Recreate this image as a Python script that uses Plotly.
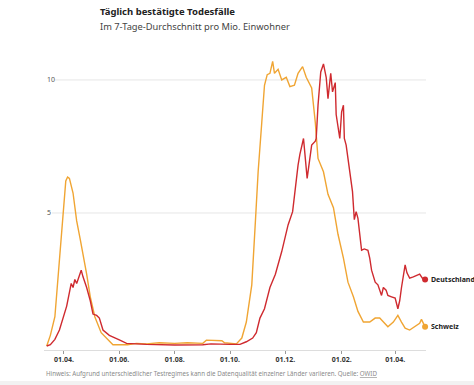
import plotly.graph_objects as go

# ---- data ----
ch_dates = ["2020-03-13","2020-03-17","2020-03-22","2020-03-27","2020-03-31","2020-04-03","2020-04-05","2020-04-07",
            "2020-04-11","2020-04-15","2020-04-19","2020-04-22","2020-04-26","2020-04-30","2020-05-05","2020-05-12",
            "2020-05-21","2020-05-25","2020-06-10","2020-06-20","2020-07-01","2020-07-15","2020-08-01","2020-08-15",
            "2020-09-01","2020-09-05","2020-09-22","2020-09-25","2020-10-08","2020-10-14","2020-10-19","2020-10-25",
            "2020-10-29","2020-11-01","2020-11-05","2020-11-08","2020-11-11","2020-11-14","2020-11-17","2020-11-19",
            "2020-11-23","2020-11-27","2020-12-02","2020-12-06","2020-12-11","2020-12-15","2020-12-20","2020-12-24",
            "2020-12-30","2021-01-03","2021-01-06","2021-01-12","2021-01-17","2021-01-23","2021-01-28","2021-02-03",
            "2021-02-08","2021-02-14","2021-02-19","2021-02-25","2021-03-04","2021-03-10","2021-03-15","2021-03-19",
            "2021-03-24","2021-03-30","2021-04-04","2021-04-08","2021-04-12","2021-04-17","2021-04-23","2021-04-28",
            "2021-04-30","2021-05-04"]
ch_values = [0.0,0.4,1.1,3.2,5.1,6.2,6.35,6.3,
             5.75,4.7,4.0,3.5,2.7,1.85,1.1,0.5,
             0.16,0.05,0.05,0.1,0.08,0.12,0.1,0.12,
             0.1,0.22,0.2,0.12,0.08,0.3,0.9,2.3,
             4.7,6.55,8.4,9.8,10.2,10.25,10.7,10.25,
             10.4,10.0,10.1,9.75,9.8,10.25,10.5,10.1,
             9.7,8.4,7.05,6.55,5.7,5.2,4.2,3.3,
             2.4,1.85,1.3,0.9,0.9,1.05,1.05,0.9,
             0.72,0.9,1.15,0.9,0.67,0.6,0.72,0.85,
             1.0,0.72]

de_dates = ["2020-03-13","2020-03-17","2020-03-22","2020-03-27","2020-04-04","2020-04-09","2020-04-11","2020-04-13",
            "2020-04-15","2020-04-19","2020-04-20","2020-04-22","2020-04-26","2020-04-30","2020-05-03","2020-05-07",
            "2020-05-10","2020-05-14","2020-05-21","2020-06-01","2020-06-09","2020-07-01","2020-08-01","2020-09-01",
            "2020-09-10","2020-10-01","2020-10-12","2020-10-19","2020-10-26","2020-10-30","2020-11-03","2020-11-08",
            "2020-11-14","2020-11-20","2020-11-27","2020-12-04","2020-12-09","2020-12-15","2020-12-17","2020-12-21",
            "2020-12-25","2020-12-30","2021-01-03","2021-01-04","2021-01-06","2021-01-09","2021-01-12","2021-01-15",
            "2021-01-17","2021-01-20","2021-01-22","2021-01-25","2021-01-26","2021-01-30","2021-02-01","2021-02-03",
            "2021-02-04","2021-02-06","2021-02-10","2021-02-13","2021-02-15","2021-02-17","2021-02-19","2021-02-23",
            "2021-02-26","2021-03-02","2021-03-04","2021-03-06","2021-03-10","2021-03-13","2021-03-17","2021-03-19",
            "2021-03-22","2021-03-24","2021-03-28","2021-04-01","2021-04-04","2021-04-06","2021-04-08","2021-04-12",
            "2021-04-14","2021-04-17","2021-04-21","2021-04-25","2021-04-28","2021-05-01","2021-05-04"]
de_values = [0.0,0.05,0.25,0.6,1.5,2.35,2.2,2.5,
             2.35,2.7,2.85,2.6,2.2,1.7,1.2,1.15,
             1.05,0.6,0.4,0.23,0.1,0.06,0.04,0.05,
             0.08,0.06,0.06,0.16,0.3,0.5,1.05,1.4,
             2.2,2.7,3.55,4.55,5.05,6.8,7.2,7.8,
             6.3,7.55,7.7,7.8,9.05,10.3,10.6,10.1,
             9.3,10.25,9.55,9.9,8.7,7.8,8.8,9.05,
             7.8,7.55,6.55,5.8,4.75,5.05,4.8,3.6,
             3.65,3.6,3.3,2.85,2.4,2.3,1.9,2.2,
             2.1,1.9,1.85,1.8,1.4,1.7,2.2,3.05,
             2.75,2.55,2.6,2.65,2.7,2.55,2.5]

tick_vals = ["2020-04-01","2020-06-01","2020-08-01","2020-10-01","2020-12-01","2021-02-01","2021-04-01"]
tick_text = ["01.04.","01.06.","01.08.","01.10.","01.12.","01.02.","01.04."]
y_ticks = [0, 5, 10]
grid_levels = [5, 10]

RED = "#cf2a2f"
ORANGE = "#f0a533"
FONT = "Noto Sans"

fig = go.Figure()
fig.add_trace(go.Scatter(x=ch_dates, y=ch_values, mode="lines", name="Schweiz",
                         line=dict(color=ORANGE, width=1.4), hoverinfo="skip"))
fig.add_trace(go.Scatter(x=de_dates, y=de_values, mode="lines", name="Deutschland",
                         line=dict(color=RED, width=1.4), hoverinfo="skip"))
fig.add_trace(go.Scatter(x=[ch_dates[-1]], y=[ch_values[-1]], mode="markers",
                         marker=dict(color=ORANGE, size=6), cliponaxis=False, hoverinfo="skip"))
fig.add_trace(go.Scatter(x=[de_dates[-1]], y=[de_values[-1]], mode="markers",
                         marker=dict(color=RED, size=6), cliponaxis=False, hoverinfo="skip"))

# gridlines (drawn as shapes so they start right of the inside labels)
for lvl, x0 in zip(grid_levels, [0.021, 0.029]):
    fig.add_shape(type="line", xref="paper", yref="y", x0=x0, x1=1, y0=lvl, y1=lvl,
                  line=dict(color="#e6e6e6", width=1), layer="below")

# end labels
fig.add_annotation(x=de_dates[-1], y=de_values[-1], text="<b>Deutschland</b>", showarrow=False,
                   xanchor="left", xshift=4, font=dict(family=FONT, size=7, color="#222"))
fig.add_annotation(x=ch_dates[-1], y=ch_values[-1], text="<b>Schweiz</b>", showarrow=False,
                   xanchor="left", xshift=4, font=dict(family=FONT, size=7, color="#222"))

# title / subtitle / note
fig.add_annotation(xref="paper", yref="paper", x=0.141, y=1.153, xanchor="left", yanchor="middle",
                   text="<b>Täglich bestätigte Todesfälle</b>", showarrow=False,
                   font=dict(family=FONT, size=9.5, color="#222"))
fig.add_annotation(xref="paper", yref="paper", x=0.141, y=1.102, xanchor="left", yanchor="middle",
                   text="Im 7-Tage-Durchschnitt pro Mio. Einwohner", showarrow=False,
                   font=dict(family=FONT, size=9.3, color="#444"))
fig.add_annotation(xref="paper", yref="paper", x=0.0, y=-0.08, xanchor="left", yanchor="middle",
                   text="Hinweis: Aufgrund unterschiedlicher Testregimes kann die Datenqualität einzelner Länder variieren. Quelle: <u>OWID</u>",
                   showarrow=False, font=dict(family=FONT, size=6.2, color="#8a8a8a"))
fig.add_shape(type="rect", xref="paper", yref="paper", x0=-0.2, x1=1.2, y0=-0.1054, y1=-0.125,
              fillcolor="#f2f2f2", line=dict(width=0), layer="below")

fig.update_layout(
    width=474, height=385,
    margin=dict(l=44, r=48, t=56, b=35),
    paper_bgcolor="white", plot_bgcolor="white",
    showlegend=False,
    font=dict(family=FONT),
    xaxis=dict(type="date", range=["2020-03-10", "2021-05-05"],
               tickvals=tick_vals, ticktext=tick_text,
               tickfont=dict(family=FONT, size=7, color="#333", weight="bold"),
               showgrid=False, zeroline=False,
               showline=True, linecolor="#dddddd", linewidth=1,
               ticks="outside", ticklen=3, tickcolor="#999", tickwidth=1),
    yaxis=dict(range=[-0.15, 10.9], tickvals=y_ticks, ticktext=[str(v) for v in y_ticks],
               ticklabelposition="inside", ticks="",
               tickfont=dict(family=FONT, size=7, color="#555"),
               showgrid=False, zeroline=False, showline=False),
)

fig.write_html("out.html", config={"displayModeBar": False},
               post_script="document.body.style.margin='0';document.body.style.overflow='hidden';")
